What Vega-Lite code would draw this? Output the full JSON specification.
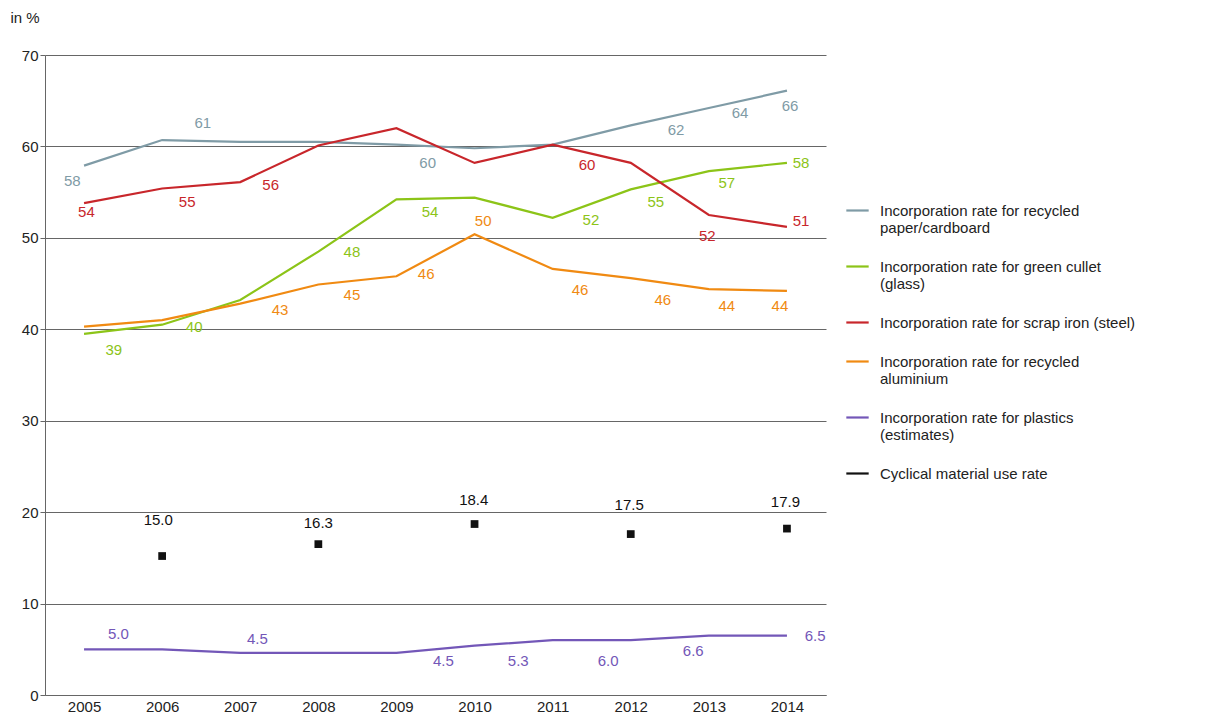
{
  "$schema": "https://vega.github.io/schema/vega-lite/v6.json",
  "width": 781,
  "height": 640,
  "autosize": {"type": "none"},
  "padding": {"left": 45, "top": 55, "right": 398, "bottom": 22},
  "background": "white",
  "datasets": {
    "lines": [
      {"s": "Incorporation rate for recycled|paper/cardboard", "year": 2005, "v": 57.9},
      {"s": "Incorporation rate for recycled|paper/cardboard", "year": 2006, "v": 60.7},
      {"s": "Incorporation rate for recycled|paper/cardboard", "year": 2007, "v": 60.5},
      {"s": "Incorporation rate for recycled|paper/cardboard", "year": 2008, "v": 60.5},
      {"s": "Incorporation rate for recycled|paper/cardboard", "year": 2009, "v": 60.2},
      {"s": "Incorporation rate for recycled|paper/cardboard", "year": 2010, "v": 59.8},
      {"s": "Incorporation rate for recycled|paper/cardboard", "year": 2011, "v": 60.2},
      {"s": "Incorporation rate for recycled|paper/cardboard", "year": 2012, "v": 62.3},
      {"s": "Incorporation rate for recycled|paper/cardboard", "year": 2013, "v": 64.2},
      {"s": "Incorporation rate for recycled|paper/cardboard", "year": 2014, "v": 66.1},
      {"s": "Incorporation rate for green cullet|(glass)", "year": 2005, "v": 39.5},
      {"s": "Incorporation rate for green cullet|(glass)", "year": 2006, "v": 40.5},
      {"s": "Incorporation rate for green cullet|(glass)", "year": 2007, "v": 43.2},
      {"s": "Incorporation rate for green cullet|(glass)", "year": 2008, "v": 48.5},
      {"s": "Incorporation rate for green cullet|(glass)", "year": 2009, "v": 54.2},
      {"s": "Incorporation rate for green cullet|(glass)", "year": 2010, "v": 54.4},
      {"s": "Incorporation rate for green cullet|(glass)", "year": 2011, "v": 52.2},
      {"s": "Incorporation rate for green cullet|(glass)", "year": 2012, "v": 55.3},
      {"s": "Incorporation rate for green cullet|(glass)", "year": 2013, "v": 57.3},
      {"s": "Incorporation rate for green cullet|(glass)", "year": 2014, "v": 58.2},
      {"s": "Incorporation rate for scrap iron (steel)", "year": 2005, "v": 53.8},
      {"s": "Incorporation rate for scrap iron (steel)", "year": 2006, "v": 55.4},
      {"s": "Incorporation rate for scrap iron (steel)", "year": 2007, "v": 56.1},
      {"s": "Incorporation rate for scrap iron (steel)", "year": 2008, "v": 60.1},
      {"s": "Incorporation rate for scrap iron (steel)", "year": 2009, "v": 62.0},
      {"s": "Incorporation rate for scrap iron (steel)", "year": 2010, "v": 58.2},
      {"s": "Incorporation rate for scrap iron (steel)", "year": 2011, "v": 60.2},
      {"s": "Incorporation rate for scrap iron (steel)", "year": 2012, "v": 58.2},
      {"s": "Incorporation rate for scrap iron (steel)", "year": 2013, "v": 52.5},
      {"s": "Incorporation rate for scrap iron (steel)", "year": 2014, "v": 51.2},
      {"s": "Incorporation rate for recycled|aluminium", "year": 2005, "v": 40.3},
      {"s": "Incorporation rate for recycled|aluminium", "year": 2006, "v": 41.0},
      {"s": "Incorporation rate for recycled|aluminium", "year": 2007, "v": 42.8},
      {"s": "Incorporation rate for recycled|aluminium", "year": 2008, "v": 44.9},
      {"s": "Incorporation rate for recycled|aluminium", "year": 2009, "v": 45.8},
      {"s": "Incorporation rate for recycled|aluminium", "year": 2010, "v": 50.4},
      {"s": "Incorporation rate for recycled|aluminium", "year": 2011, "v": 46.6},
      {"s": "Incorporation rate for recycled|aluminium", "year": 2012, "v": 45.6},
      {"s": "Incorporation rate for recycled|aluminium", "year": 2013, "v": 44.4},
      {"s": "Incorporation rate for recycled|aluminium", "year": 2014, "v": 44.2},
      {"s": "Incorporation rate for plastics|(estimates)", "year": 2005, "v": 5.0},
      {"s": "Incorporation rate for plastics|(estimates)", "year": 2006, "v": 5.0},
      {"s": "Incorporation rate for plastics|(estimates)", "year": 2007, "v": 4.6},
      {"s": "Incorporation rate for plastics|(estimates)", "year": 2008, "v": 4.6},
      {"s": "Incorporation rate for plastics|(estimates)", "year": 2009, "v": 4.6},
      {"s": "Incorporation rate for plastics|(estimates)", "year": 2010, "v": 5.4},
      {"s": "Incorporation rate for plastics|(estimates)", "year": 2011, "v": 6.0},
      {"s": "Incorporation rate for plastics|(estimates)", "year": 2012, "v": 6.0},
      {"s": "Incorporation rate for plastics|(estimates)", "year": 2013, "v": 6.5},
      {"s": "Incorporation rate for plastics|(estimates)", "year": 2014, "v": 6.5}
    ],
    "points": [
      {"s": "Cyclical material use rate", "year": 2006, "v": 15.2},
      {"s": "Cyclical material use rate", "year": 2008, "v": 16.5},
      {"s": "Cyclical material use rate", "year": 2010, "v": 18.7},
      {"s": "Cyclical material use rate", "year": 2012, "v": 17.6},
      {"s": "Cyclical material use rate", "year": 2014, "v": 18.2}
    ],
    "labels": [
      {"s": "Incorporation rate for recycled|paper/cardboard", "x": 2004.85, "y": 56.2, "t": "58"},
      {"s": "Incorporation rate for recycled|paper/cardboard", "x": 2006.52, "y": 62.6, "t": "61"},
      {"s": "Incorporation rate for recycled|paper/cardboard", "x": 2009.4, "y": 58.2, "t": "60"},
      {"s": "Incorporation rate for recycled|paper/cardboard", "x": 2012.58, "y": 61.8, "t": "62"},
      {"s": "Incorporation rate for recycled|paper/cardboard", "x": 2013.4, "y": 63.7, "t": "64"},
      {"s": "Incorporation rate for recycled|paper/cardboard", "x": 2014.04, "y": 64.4, "t": "66"},
      {"s": "Incorporation rate for green cullet|(glass)", "x": 2005.38, "y": 37.7, "t": "39"},
      {"s": "Incorporation rate for green cullet|(glass)", "x": 2006.41, "y": 40.2, "t": "40"},
      {"s": "Incorporation rate for green cullet|(glass)", "x": 2008.43, "y": 48.5, "t": "48"},
      {"s": "Incorporation rate for green cullet|(glass)", "x": 2009.43, "y": 52.8, "t": "54"},
      {"s": "Incorporation rate for green cullet|(glass)", "x": 2011.49, "y": 51.9, "t": "52"},
      {"s": "Incorporation rate for green cullet|(glass)", "x": 2012.32, "y": 53.9, "t": "55"},
      {"s": "Incorporation rate for green cullet|(glass)", "x": 2013.23, "y": 56.0, "t": "57"},
      {"s": "Incorporation rate for green cullet|(glass)", "x": 2014.18, "y": 58.2, "t": "58"},
      {"s": "Incorporation rate for scrap iron (steel)", "x": 2005.03, "y": 52.8, "t": "54"},
      {"s": "Incorporation rate for scrap iron (steel)", "x": 2006.32, "y": 53.9, "t": "55"},
      {"s": "Incorporation rate for scrap iron (steel)", "x": 2007.39, "y": 55.8, "t": "56"},
      {"s": "Incorporation rate for scrap iron (steel)", "x": 2011.44, "y": 58.0, "t": "60"},
      {"s": "Incorporation rate for scrap iron (steel)", "x": 2012.98, "y": 50.2, "t": "52"},
      {"s": "Incorporation rate for scrap iron (steel)", "x": 2014.18, "y": 51.8, "t": "51"},
      {"s": "Incorporation rate for recycled|aluminium", "x": 2007.51, "y": 42.1, "t": "43"},
      {"s": "Incorporation rate for recycled|aluminium", "x": 2008.43, "y": 43.7, "t": "45"},
      {"s": "Incorporation rate for recycled|aluminium", "x": 2009.38, "y": 46.1, "t": "46"},
      {"s": "Incorporation rate for recycled|aluminium", "x": 2010.11, "y": 51.8, "t": "50"},
      {"s": "Incorporation rate for recycled|aluminium", "x": 2011.35, "y": 44.3, "t": "46"},
      {"s": "Incorporation rate for recycled|aluminium", "x": 2012.41, "y": 43.2, "t": "46"},
      {"s": "Incorporation rate for recycled|aluminium", "x": 2013.23, "y": 42.6, "t": "44"},
      {"s": "Incorporation rate for recycled|aluminium", "x": 2013.91, "y": 42.6, "t": "44"},
      {"s": "Incorporation rate for plastics|(estimates)", "x": 2005.44, "y": 6.7, "t": "5.0"},
      {"s": "Incorporation rate for plastics|(estimates)", "x": 2007.22, "y": 6.1, "t": "4.5"},
      {"s": "Incorporation rate for plastics|(estimates)", "x": 2009.6, "y": 3.7, "t": "4.5"},
      {"s": "Incorporation rate for plastics|(estimates)", "x": 2010.56, "y": 3.7, "t": "5.3"},
      {"s": "Incorporation rate for plastics|(estimates)", "x": 2011.71, "y": 3.7, "t": "6.0"},
      {"s": "Incorporation rate for plastics|(estimates)", "x": 2012.8, "y": 4.8, "t": "6.6"},
      {"s": "Incorporation rate for plastics|(estimates)", "x": 2014.36, "y": 6.5, "t": "6.5"},
      {"s": "Cyclical material use rate", "x": 2005.95, "y": 19.1, "t": "15.0"},
      {"s": "Cyclical material use rate", "x": 2008.0, "y": 18.8, "t": "16.3"},
      {"s": "Cyclical material use rate", "x": 2009.99, "y": 21.3, "t": "18.4"},
      {"s": "Cyclical material use rate", "x": 2011.98, "y": 20.8, "t": "17.5"},
      {"s": "Cyclical material use rate", "x": 2013.98, "y": 21.1, "t": "17.9"}
    ]
  },
  "encoding": {
    "x": {
      "type": "quantitative",
      "scale": {"domain": [2004.5, 2014.5], "nice": false, "zero": false},
      "axis": {"values": [2005, 2006, 2007, 2008, 2009, 2010, 2011, 2012, 2013, 2014], "format": "d", "title": null, "grid": false, "ticks": false, "domainColor": "#666", "labelColor": "#222", "labelFontSize": 15, "labelPadding": 4}
    },
    "y": {
      "type": "quantitative",
      "scale": {"domain": [0, 70], "nice": false},
      "axis": {"values": [0, 10, 20, 30, 40, 50, 60, 70], "title": "in %", "titleAngle": 0, "titleAlign": "left", "titleX": -35, "titleY": -30, "titleFontWeight": "normal", "titleFontSize": 15, "titleColor": "#222", "gridColor": "#666", "domainColor": "#666", "tickColor": "#666", "labelColor": "#222", "labelFontSize": 15}
    },
    "color": {
      "field": "s",
      "type": "nominal",
      "scale": {
        "domain": ["Incorporation rate for recycled|paper/cardboard", "Incorporation rate for green cullet|(glass)", "Incorporation rate for scrap iron (steel)", "Incorporation rate for recycled|aluminium", "Incorporation rate for plastics|(estimates)", "Cyclical material use rate"],
        "range": ["#7f9ba6", "#8cc418", "#c8262b", "#f08a12", "#7357b8", "#111111"]
      },
      "legend": null
    }
  },
  "layer": [
    {
      "data": {"name": "lines"},
      "mark": {"type": "line", "strokeWidth": 2.2},
      "encoding": {
        "x": {"field": "year"},
        "y": {"field": "v"},
        "color": {
          "field": "s",
          "legend": {
            "orient": "none", "legendX": 800, "legendY": 143, "title": null,
            "symbolType": "stroke", "symbolSize": 500, "symbolStrokeWidth": 2.2,
            "labelExpr": "split(datum.label, '|')", "labelFontSize": 15, "labelColor": "#222",
            "labelLimit": 400, "rowPadding": 18, "labelOffset": 10, "labelFont": "Liberation Sans"
          }
        }
      }
    },
    {
      "data": {"name": "points"},
      "mark": {"type": "square", "size": 60, "filled": true, "opacity": 1},
      "encoding": {"x": {"field": "year"}, "y": {"field": "v"}}
    },
    {
      "data": {"name": "labels"},
      "mark": {"type": "text", "fontSize": 15, "font": "Liberation Sans"},
      "encoding": {"x": {"field": "x"}, "y": {"field": "y"}, "text": {"field": "t"}}
    }
  ],
  "config": {"view": {"stroke": null}, "font": "Liberation Sans"}
}
